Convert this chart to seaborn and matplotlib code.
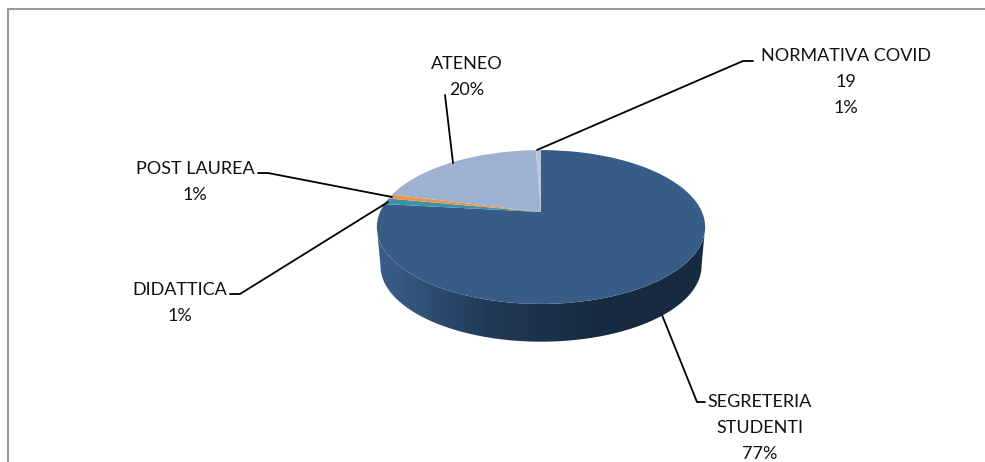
import numpy as np
import seaborn as sns
import matplotlib.pyplot as plt
from matplotlib.colors import LinearSegmentedColormap
from matplotlib.patches import Polygon
from matplotlib.transforms import Transform

# values (only NORMATIVA COVID = 19 is printed)
categories = ['SEGRETERIA\nSTUDENTI', 'DIDATTICA', 'POST LAUREA', 'ATENEO', 'NORMATIVA COVID\n19']
values = [2375, 40, 28, 633, 19]
percent_labels = ['77%', '1%', '1%', '20%', '1%']
slice_colors = ['#375C87', '#3C93A8', '#EE9340', '#9FB1D1', '#B9C6DF']
side_colors = ['#3A5F8B', '#223A58', '#172A40', '#172A40']

# where the labels sit, in image pixels
label_x = [760, 180, 195, 467, 846]
label_y = [428, 303, 182, 77, 82]
leaders = [
    [(662, 315), (697, 402), (705, 402)],
    [(388, 202), (240, 294), (230, 294)],
    [(392, 197), (268, 173), (258, 173)],
    [(453, 163), (445, 95)],
    [(537, 150), (743, 61), (753, 61)],
]


class Tilt(Transform):
    # puts the flat unit pie into the tilted 3D view
    input_dims = 2
    output_dims = 2

    def __init__(self, x0=541, y0=212, b=161, a=74, p=0.195):
        super().__init__()
        self.x0, self.y0, self.b, self.a, self.p = x0, y0, b, a, p

    def transform_non_affine(self, values):
        pts = np.asarray(values, dtype=float)
        w = 1 + self.p * pts[:, 1]
        return np.column_stack([self.x0 + self.b * pts[:, 0] / w,
                                self.y0 - self.a * pts[:, 1] / w])


sns.set_theme(style='white')
plt.rcParams['font.family'] = ['Lato', 'DejaVu Sans']

fig = plt.figure(figsize=(9.85, 4.62), dpi=100)
ax = fig.add_axes([0, 0, 1, 1])

wedges, _ = ax.pie(values, colors=sns.color_palette(slice_colors), startangle=90,
                   counterclock=False, wedgeprops={'linewidth': 0, 'zorder': 3})
ax.set_aspect('auto')
for w in wedges:
    w.set_transform(Tilt() + ax.transData)

# side of the pie: gradient clipped to the band under the top face
theta = np.radians(np.linspace(191, 349, 120))
circle = np.column_stack([np.cos(theta), np.sin(theta)])
upper = Tilt().transform(circle)
lower = Tilt(y0=251, b=157.5, a=73).transform(circle)
band = Polygon(np.vstack([upper, lower[::-1]]), closed=True, transform=ax.transData,
               facecolor='none', edgecolor='none')
ax.add_patch(band)
cmap = LinearSegmentedColormap.from_list('side', side_colors)
img = ax.imshow(np.linspace(0, 1, 256).reshape(1, -1), cmap=cmap, aspect='auto',
                extent=(377, 705, 345, 220), zorder=2)
img.set_clip_path(band)

# frame, cut by the image on the right and at the bottom
ax.plot([8, 8, 985], [462, 9, 9], color='#999999', lw=1.5, solid_joinstyle='miter')

for pts in leaders:
    xs, ys = zip(*pts)
    ax.plot(xs, ys, color='black', lw=1.3, zorder=4)

for name, pct, x, y in zip(categories, percent_labels, label_x, label_y):
    ax.text(x, y, f'{name}\n{pct}', ha='center', va='center', fontsize=13,
            color='#111111', linespacing=1.8, zorder=5)

ax.set_xlim(0, 985)
ax.set_ylim(462, 0)
ax.set_aspect('auto')
ax.set_axis_off()

fig.savefig('out.png', dpi=100, facecolor='white')
